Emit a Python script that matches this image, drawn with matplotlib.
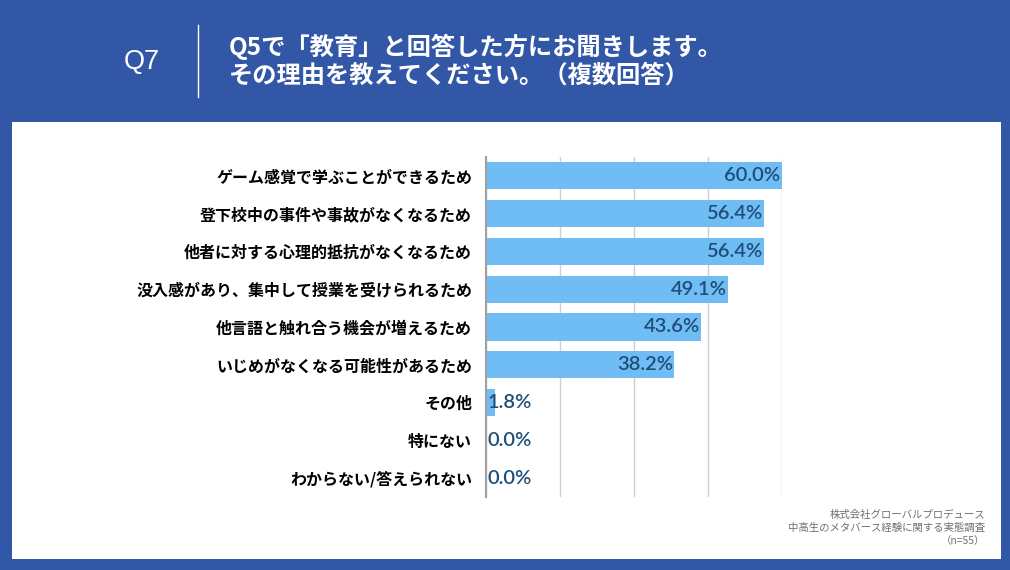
import matplotlib.pyplot as plt
from matplotlib.patches import Rectangle
from matplotlib.lines import Line2D

plt.rcParams['font.family'] = ['Noto Sans CJK JP', 'DejaVu Sans']

labels = ['ゲーム感覚で学ぶことができるため',
          '登下校中の事件や事故がなくなるため',
          '他者に対する心理的抵抗がなくなるため',
          '没入感があり、集中して授業を受けられるため',
          '他言語と触れ合う機会が増えるため',
          'いじめがなくなる可能性があるため',
          'その他',
          '特にない',
          'わからない/答えられない']
values = [60.0, 56.4, 56.4, 49.1, 43.6, 38.2, 1.8, 0.0, 0.0]

blue_bg = '#3357A7'
bar_col = '#70BDF5'
val_col = '#1F4E79'

fig = plt.figure(figsize=(10.1, 5.7), dpi=100)
fig.patch.set_facecolor(blue_bg)

# white panel
W, H = 1010, 570
fig.add_artist(Rectangle((12 / W, 1 - 559 / H), (1001 - 12) / W, (559 - 122) / H,
                         transform=fig.transFigure, facecolor='white', edgecolor='none', zorder=0))

# header
fig.text(142 / W, 1 - 62 / H, 'Q7', color='white', fontsize=19.5, ha='center', va='center',
         family=['Liberation Sans'])
fig.add_artist(Line2D([198 / W, 198 / W], [1 - 25 / H, 1 - 97 / H], color='white', lw=1))
fig.text(229 / W, 1 - 47 / H, 'Q5で「教育」と回答した方にお聞きします。', color='white',
         fontsize=17.5, fontweight='bold', va='center')
fig.text(229 / W, 1 - 76 / H, 'その理由を教えてください。（複数回答）', color='white',
         fontsize=17.5, fontweight='bold', va='center')

ax = fig.add_axes([486 / W, 1 - 497 / H, (782 - 486) / W, (497 - 157) / H])
ax.set_facecolor('none')
ypos = list(range(len(labels)))
ax.barh(ypos, values, height=0.72, color=bar_col, zorder=2)
ax.set_xlim(0, 60)
ax.set_ylim(len(labels) - 0.5, -0.5)
ax.set_xticks([0, 15, 30, 45, 60])
ax.xaxis.grid(True, color='#D0D0D0', lw=1, zorder=0)
ax.set_axisbelow(True)
ax.tick_params(axis='x', length=0, labelbottom=False)
ax.tick_params(axis='y', length=0, pad=10)
ax.set_yticks(ypos)
ax.set_yticklabels(labels, fontsize=11.5, fontweight='bold', color='black')
for s in ['top', 'right', 'bottom']:
    ax.spines[s].set_visible(False)
ax.spines['left'].set_color('#A0A0A0')
ax.spines['left'].set_linewidth(1.5)

for y, v in zip(ypos, values):
    if v > 10:
        ax.text(v - 0.3, y, f'{v:.1f}%', ha='right', va='center', fontsize=14.5,
                color=val_col, zorder=3, family=['Lato'], fontweight='semibold')
    else:
        ax.text(0.3, y, f'{v:.1f}%', ha='left', va='center', fontsize=14.5,
                color=val_col, zorder=3, family=['Lato'], fontweight='semibold')

# source note
src = '株式会社グローバルプロデュース\n中高生のメタバース経験に関する実態調査\n（n=55）'
fig.text(985 / W, 1 - 528 / H, src, color='#707070', fontsize=7.5, ha='right', va='center',
         linespacing=1.35)

fig.savefig('out.png', dpi=100, facecolor=fig.get_facecolor())
